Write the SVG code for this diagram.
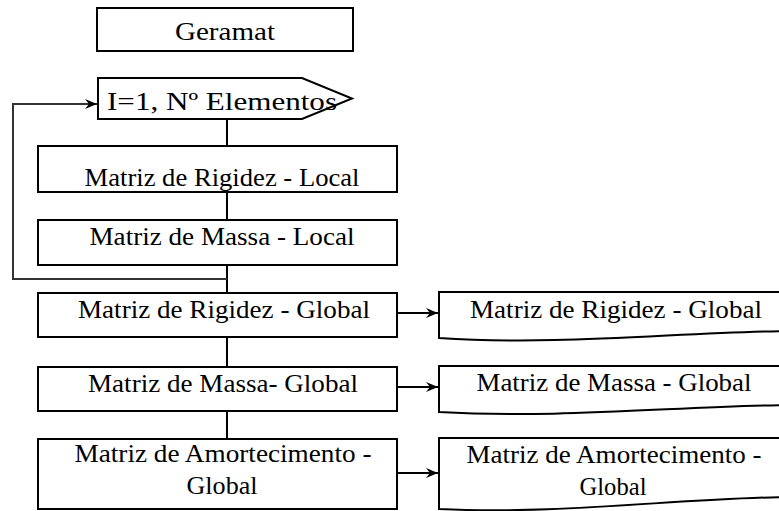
<svg xmlns="http://www.w3.org/2000/svg" width="779" height="511" viewBox="0 0 779 511">
<style>
.box{fill:#fff;stroke:#000;stroke-width:2}
.ln{fill:none;stroke:#000;stroke-width:2}
text{font-family:'Liberation Serif','DejaVu Serif',serif;font-size:25px;fill:#000;text-anchor:middle}
</style>
<defs>
<marker id="ah" viewBox="0 0 12 10" refX="12" refY="5" markerWidth="12" markerHeight="10" orient="auto" markerUnits="userSpaceOnUse">
<path d="M0,0 L12,5 L0,10 L4,5 Z" fill="#000"/>
</marker>
</defs>
<rect width="779" height="511" fill="#fff"/>
<g id="connectors">
<path class="ln" d="M227,119 V146"/>
<path class="ln" d="M227,192 V220"/>
<path class="ln" d="M227,265 V293"/>
<path class="ln" d="M227,337 V367"/>
<path class="ln" d="M227,411 V439"/>
<path class="ln" d="M227,279 H13 V104 H97" marker-end="url(#ah)" style="stroke:#333"/>
<path class="ln" d="M397,313 H438" marker-end="url(#ah)"/>
<path class="ln" d="M397,387 H438" marker-end="url(#ah)"/>
<path class="ln" d="M397,473 H438" marker-end="url(#ah)"/>
</g>
<g id="geramat">
<rect class="box" x="97" y="8" width="256" height="43"/>
<text x="225" y="40" textLength="100" lengthAdjust="spacingAndGlyphs">Geramat</text>
</g>
<g id="loop">
<polygon class="box" points="98,78 302,78 352,98.5 302,119 98,119"/>
<text x="222" y="110" textLength="230" lengthAdjust="spacingAndGlyphs">I=1, Nº Elementos</text>
</g>
<g id="rigidez-local">
<rect class="box" x="38" y="146" width="359" height="46"/>
<text x="222" y="186" textLength="275" lengthAdjust="spacingAndGlyphs">Matriz de Rigidez - Local</text>
</g>
<g id="massa-local">
<rect class="box" x="38" y="220" width="359" height="45"/>
<text x="222" y="245" textLength="265" lengthAdjust="spacingAndGlyphs">Matriz de Massa - Local</text>
</g>
<g id="rigidez-global">
<rect class="box" x="38" y="293" width="359" height="44"/>
<text x="224" y="318" textLength="292" lengthAdjust="spacingAndGlyphs">Matriz de Rigidez - Global</text>
</g>
<g id="massa-global">
<rect class="box" x="38" y="367" width="359" height="44"/>
<text x="223" y="392" textLength="270" lengthAdjust="spacingAndGlyphs">Matriz de Massa- Global</text>
</g>
<g id="amort-global">
<rect class="box" x="38" y="439" width="359" height="70"/>
<text x="223" y="462" textLength="297" lengthAdjust="spacingAndGlyphs">Matriz de Amortecimento -</text>
<text x="222" y="494" textLength="71" lengthAdjust="spacingAndGlyphs">Global</text>
</g>
<g id="doc-rigidez">
<path class="box" d="M439,292 H790 V331 C680,332 560,346 439,338 Z"/>
<text x="616" y="318" textLength="292" lengthAdjust="spacingAndGlyphs">Matriz de Rigidez - Global</text>
</g>
<g id="doc-massa">
<path class="box" d="M439,366 H790 V405 C680,406 560,419 439,412 Z"/>
<text x="614" y="391" textLength="275" lengthAdjust="spacingAndGlyphs">Matriz de Massa - Global</text>
</g>
<g id="doc-amort">
<path class="box" d="M439,438 H790 V497 C680,498 560,515 439,509 Z"/>
<text x="614" y="463" textLength="295" lengthAdjust="spacingAndGlyphs">Matriz de Amortecimento -</text>
<text x="613" y="495" textLength="67" lengthAdjust="spacingAndGlyphs">Global</text>
</g>
</svg>
